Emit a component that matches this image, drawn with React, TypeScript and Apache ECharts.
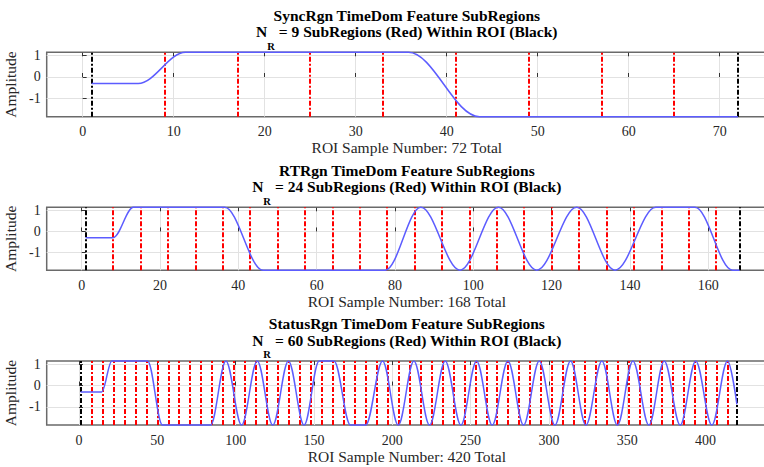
import React, { useEffect, useRef } from 'react';
import * as echarts from 'echarts';

// ---------- Data ----------
// Signal knots [sample, amplitude]; drawn as a smooth line through them.
const SYNC_SIGNAL: [number, number][] = [
  [1, -0.3], [6.1, -0.3], [11.3, 1.15], [35.8, 1.15], [43.6, -1.85], [72, -1.85],
];
const SYNC_RED = [9, 17, 25, 33, 41, 49, 57, 65];
const SYNC_BLACK = [1, 72];
const SYNC_TICKS = [0, 10, 20, 30, 40, 50, 60, 70];

const RT_SIGNAL: [number, number][] = [
  [1, -0.3], [8, -0.3], [13.2, 1.15], [36.5, 1.15], [46.3, -1.85], [77.5, -1.85],
  [86.6, 1.15], [96.6, -1.85], [106.4, 1.15], [116.2, -1.85], [126.4, 1.15],
  [136.2, -1.85], [146.6, 1.15], [156.6, 1.15], [166.2, -1.85], [168, -1.85],
];
const RT_RED = [8, 15, 22, 29, 36, 43, 50, 57, 64, 71, 78, 85, 92, 99, 106, 113, 120, 127, 134, 141, 148, 155, 162];
const RT_BLACK = [1, 168];
const RT_TICKS = [0, 20, 40, 60, 80, 100, 120, 140, 160];

const STATUS_SIGNAL: [number, number][] = [
  [1, -0.3], [14.5, -0.3], [21, 1.15], [43.8, 1.15], [53.3, -1.85], [84, -1.85],
  [93.8, 1.15], [103.8, -1.85], [113.8, 1.15], [123.7, -1.85], [133.7, 1.15],
  [143.7, -1.85], [153.3, 1.15], [162.8, 1.15], [173.3, -1.85], [183, -1.85],
  [193.8, 1.15], [203.8, -1.85], [213.8, 1.15], [223.8, -1.85], [233.8, 1.15],
  [243.8, -1.85], [253.8, 1.15], [263.8, -1.85], [273.8, 1.15], [283.8, -1.85],
  [293.8, 1.15], [303.8, -1.85], [313.8, 1.15], [323.6, -1.85], [333.8, 1.15],
  [343.7, -1.85], [353.6, 1.15], [363.8, -1.85], [373.6, 1.15], [383.8, -1.85],
  [393.7, 1.15], [404, -1.85], [414, 1.15], [420, -0.88],
];
const STATUS_RED = [
  8, 15, 22, 29, 36, 43, 50, 57, 64, 71, 78, 85, 92, 99, 106, 113, 120, 127, 134, 141,
  148, 155, 162, 169, 176, 183, 190, 197, 204, 211, 218, 225, 232, 239, 246, 253, 260,
  267, 274, 281, 288, 295, 302, 309, 316, 323, 330, 337, 344, 351, 358, 365, 372, 379,
  386, 393, 400, 407, 414,
];
const STATUS_BLACK = [1, 420];
const STATUS_TICKS = [0, 50, 100, 150, 200, 250, 300, 350, 400];

const Y_TICKS = [-1, 0, 1];

const TITLES = [
  'SyncRgn TimeDom Feature SubRegions',
  'RTRgn TimeDom Feature SubRegions',
  'StatusRgn TimeDom Feature SubRegions',
];
const SUBREGION_COUNTS = [9, 24, 60];
const ROI_TOTALS = [72, 168, 420];

// ---------- Layout ----------
const FONT = '"Liberation Serif", "Times New Roman", serif';
const GRID_LEFT = 46.7;
const GRID_WIDTH = 720.3;
const CENTER_X = GRID_LEFT + GRID_WIDTH / 2;

const PANELS = [
  { top: 52.3, height: 64.4, xMin: -3.95, xMax: 75.2, split: 8, t1: 15, t2: 31.7,
    signal: SYNC_SIGNAL, red: SYNC_RED, black: SYNC_BLACK, ticks: SYNC_TICKS },
  { top: 207.3, height: 63, xMin: -8.94, xMax: 175, split: 9, t1: 170, t2: 186.7,
    signal: RT_SIGNAL, red: RT_RED, black: RT_BLACK, ticks: RT_TICKS },
  { top: 361, height: 64, xMin: -20.6, xMax: 439.2, split: 9, t1: 323.7, t2: 340.4,
    signal: STATUS_SIGNAL, red: STATUS_RED, black: STATUS_BLACK, ticks: STATUS_TICKS },
];

function buildOption() {
  const grid: any[] = [];
  const xAxis: any[] = [];
  const yAxis: any[] = [];
  const series: any[] = [];
  const graphic: any[] = [];

  PANELS.forEach((p, i) => {
    grid.push({
      left: GRID_LEFT, top: p.top, width: GRID_WIDTH, height: p.height,
      containLabel: false, outerBoundsMode: 'none',
      show: true, borderColor: '#6a6a6a', borderWidth: 1.5, backgroundColor: 'transparent',
    });
    const fmtX = (v: number) => (p.ticks.indexOf(v) >= 0 ? String(v) : '');
    xAxis.push({
      gridIndex: i, type: 'value', position: 'bottom', min: p.xMin, max: p.xMax,
      splitNumber: p.split,
      axisLine: { show: false },
      axisTick: { show: true, inside: true, length: 4, customValues: p.ticks, lineStyle: { color: '#333', width: 1 } },
      axisLabel: { customValues: p.ticks, formatter: fmtX, fontFamily: FONT, fontSize: 14, color: '#262626', margin: 8 },
      splitLine: { show: true, lineStyle: { color: '#e2e2e2', width: 1 } },
      name: `ROI Sample Number: ${ROI_TOTALS[i]} Total`,
      nameLocation: 'middle', nameGap: 23,
      nameTextStyle: { fontFamily: FONT, fontSize: 15.5, color: '#262626' },
    });
    xAxis.push({
      gridIndex: i, type: 'value', position: 'top', min: p.xMin, max: p.xMax,
      splitNumber: p.split,
      axisLine: { show: false },
      axisTick: { show: true, inside: true, length: 4, customValues: p.ticks, lineStyle: { color: '#333', width: 1 } },
      axisLabel: { show: false },
      splitLine: { show: false },
    });
    const fmtY = (v: number) => (Y_TICKS.indexOf(v) >= 0 ? String(v) : '');
    yAxis.push({
      gridIndex: i, type: 'value', min: -1.85, max: 1.15, splitNumber: 3,
      axisLine: { show: false },
      axisTick: { show: true, inside: true, length: 4, customValues: Y_TICKS, lineStyle: { color: '#333', width: 1 } },
      axisLabel: { customValues: Y_TICKS, formatter: fmtY, fontFamily: FONT, fontSize: 14, color: '#262626', margin: 6 },
      splitLine: { show: true, lineStyle: { color: '#e2e2e2', width: 1 } },
      name: 'Amplitude', nameLocation: 'middle', nameGap: 20, nameRotate: 90,
      nameTextStyle: { fontFamily: FONT, fontSize: 15.5, color: '#262626' },
    });

    const dash = [5, 2, 2, 2];
    series.push({
      type: 'line',
      xAxisIndex: i * 2,
      yAxisIndex: i,
      data: p.signal,
      showSymbol: false,
      symbol: 'none',
      smooth: 0.35,
      smoothMonotone: 'x',
      clip: false,
      silent: true,
      z: 3,
      lineStyle: { color: '#5c5cff', width: 1.5 },
      markLine: {
        silent: true,
        z: 1,
        symbol: ['none', 'none'],
        label: { show: false },
        animation: false,
        data: [
          ...p.red.map((x) => ({ xAxis: x, lineStyle: { color: '#ff0000', width: 2, type: dash } })),
          ...p.black.map((x) => ({ xAxis: x, lineStyle: { color: '#000000', width: 2, type: dash } })),
        ],
      },
    });

    graphic.push({
      type: 'text', x: CENTER_X, y: p.t1, silent: true,
      style: {
        text: TITLES[i], fontFamily: FONT, fontSize: 15.5, fontWeight: 'bold', fill: '#000',
        align: 'center', verticalAlign: 'middle', textAlign: 'center', textVerticalAlign: 'middle',
      },
    });
    graphic.push({
      type: 'text', x: CENTER_X, y: p.t2, silent: true,
      style: {
        text: `{m|N}{s|R}{m| = ${SUBREGION_COUNTS[i]} SubRegions (Red) Within ROI (Black)}`,
        align: 'center', verticalAlign: 'middle', textAlign: 'center', textVerticalAlign: 'middle',
        rich: {
          m: { fontFamily: FONT, fontSize: 15.5, fontWeight: 'bold', fill: '#000', color: '#000' },
          s: { fontFamily: FONT, fontSize: 10.5, fontWeight: 'bold', fill: '#000', color: '#000', padding: [29, 0, 0, 0] },
        },
      },
    });
  });

  return {
    animation: false,
    backgroundColor: '#ffffff',
    grid, xAxis, yAxis, series, graphic,
  };
}

export default function App() {
  const ref = useRef<HTMLDivElement>(null);
  useEffect(() => {
    if (!ref.current) return;
    const chart = echarts.init(ref.current, null, { renderer: 'svg' });
    chart.setOption(buildOption() as any);
    return () => chart.dispose();
  }, []);
  return (
    <div style={{ position: 'fixed', left: 0, top: 0, width: 764, height: 467, overflow: 'hidden', background: '#fff' }}>
      <div ref={ref} style={{ width: 780, height: 467 }} />
    </div>
  );
}
